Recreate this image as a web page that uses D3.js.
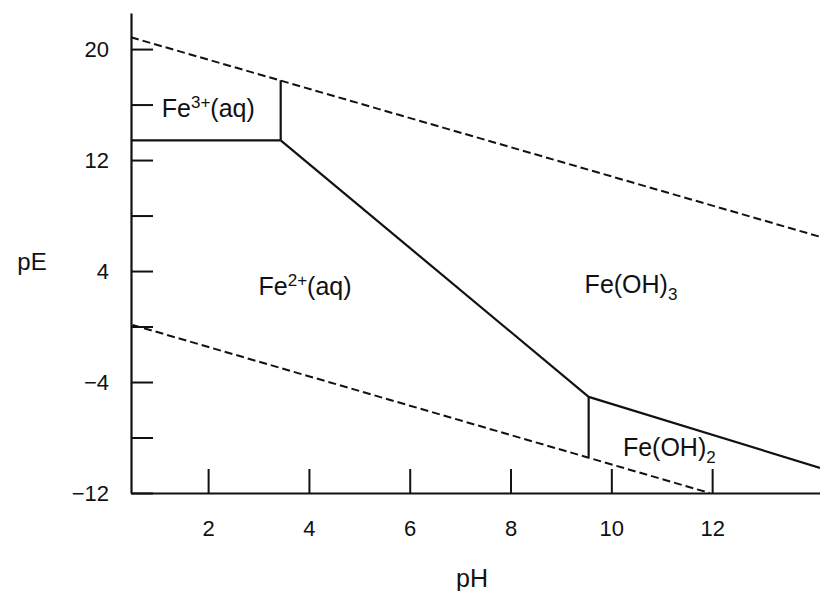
<!DOCTYPE html>
<html>
<head>
<meta charset="utf-8">
<script src="https://cdn.jsdelivr.net/npm/d3@7"></script>
<style>
  body { margin: 0; background: #fff; }
  text { font-family: "Liberation Sans", Arial, Helvetica, sans-serif; fill: #111; }
</style>
</head>
<body>
<div id="chart"></div>
<script>
// pE - pH diagram for iron
const pHRange = [0.47, 14.14];
const pERange = [-12, 22.6];
const pHTicks = [2, 4, 6, 8, 10, 12];
const pETicks = [20, 16, 12, 8, 4, 0, -4, -8, -12];
const pELabelled = [20, 12, 4, -4, -12];

// water stability limits (dashed)
const o2Limit = [[0.47, 20.85], [14.14, 6.47]];
const h2Limit = [[0.5, 0.12], [11.95, -12]];

// species boundaries (solid)
const fe3Fe2 = [[0.47, 13.42], [3.44, 13.42]];
const fe3FeOH3 = [[3.44, 13.42], [3.44, 17.75]];
const fe2FeOH3 = [[3.44, 13.42], [9.55, -5.07]];
const fe2FeOH2 = [[9.55, -5.07], [9.55, -9.4]];
const feOH3FeOH2 = [[9.55, -5.07], [14.14, -10.19]];

// region labels: base, sup/sub, rest, anchor (pH, pE)
const regionNames = ["Fe", "Fe", "Fe(OH)", "Fe(OH)"];
const regionSup = ["3+", "2+", "", ""];
const regionSub = ["", "", "3", "2"];
const regionTail = ["(aq)", "(aq)", "", ""];
const regionPH = [1.08, 3.0, 9.47, 10.23];
const regionPE = [15.13, 2.29, 2.43, -9.33];

const W = 820, H = 591;
const svg = d3.select("#chart").append("svg")
    .attr("width", W).attr("height", H);

const x = d3.scaleLinear().domain(pHRange).range([131, 820]);
const y = d3.scaleLinear().domain(pERange).range([493, 13]);

const line = d3.line().x(d => x(d[0])).y(d => y(d[1]));

// axes
const yAxis = d3.axisLeft(y)
    .tickValues(pETicks)
    .tickSizeInner(-22).tickSizeOuter(0).tickPadding(22)
    .tickFormat(d => pELabelled.includes(d) ? d3.format("d")(d) : "");
const gy = svg.append("g").attr("transform", `translate(${x(pHRange[0])},0)`).call(yAxis);

const xAxis = d3.axisBottom(x)
    .tickValues(pHTicks)
    .tickSizeInner(-24).tickSizeOuter(0).tickPadding(27);
const gx = svg.append("g").attr("transform", `translate(0,${y(pERange[0])})`).call(xAxis);

[gx, gy].forEach(g => {
  g.select(".domain").attr("stroke", "#111").attr("stroke-width", 2.2);
  g.selectAll(".tick line").attr("stroke", "#111").attr("stroke-width", 2);
  g.selectAll(".tick text").style("font-size", "22px").attr("fill", "#111");
});

// axis titles
svg.append("text").attr("x", 32).attr("y", 270).attr("text-anchor", "middle")
   .style("font-size", "24px").text("pE");
svg.append("text").attr("x", 472).attr("y", 587).attr("text-anchor", "middle")
   .style("font-size", "25px").text("pH");

// dashed water lines
[o2Limit, h2Limit].forEach(d => {
  svg.append("path").datum(d).attr("d", line)
     .attr("fill", "none").attr("stroke", "#111")
     .attr("stroke-width", 2).attr("stroke-dasharray", "8,4");
});

// solid boundaries
[fe3Fe2, fe3FeOH3, fe2FeOH3, fe2FeOH2, feOH3FeOH2].forEach(d => {
  svg.append("path").datum(d).attr("d", line)
     .attr("fill", "none").attr("stroke", "#111")
     .attr("stroke-width", 2.2);
});

// region labels
regionNames.forEach((name, i) => {
  const t = svg.append("text")
     .attr("x", x(regionPH[i])).attr("y", y(regionPE[i]))
     .style("font-size", "25px");
  t.append("tspan").text(name);
  if (regionSup[i]) {
    t.append("tspan").attr("dy", -9).style("font-size", "17px").text(regionSup[i]);
    t.append("tspan").attr("dy", 9).text(regionTail[i]);
  }
  if (regionSub[i]) {
    t.append("tspan").attr("dy", 7).style("font-size", "17px").text(regionSub[i]);
  }
});
</script>
</body>
</html>
